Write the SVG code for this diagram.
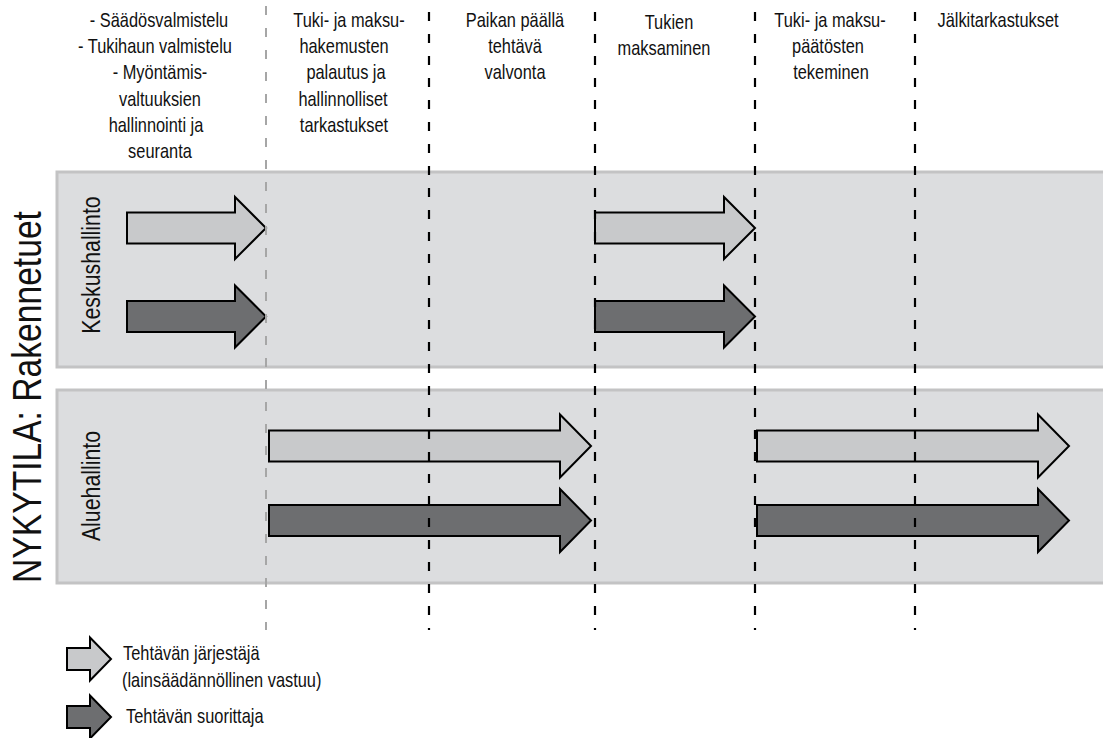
<svg xmlns="http://www.w3.org/2000/svg" width="1103" height="738" viewBox="0 0 1103 738">
<style>
.t{font-family:"Liberation Sans",Arial,sans-serif;fill:#111}
.h{font-size:20px;text-anchor:middle}
.lg{font-size:20px}
.band{fill:#dcdddf;stroke:#c3c3c4;stroke-width:3}
.lt{fill:#c8c9cb;stroke:#000;stroke-width:2;stroke-linejoin:miter}
.dk{fill:#6d6e70;stroke:#000;stroke-width:2;stroke-linejoin:miter}
.dg{stroke:#a6a6a6;stroke-width:2;stroke-dasharray:9 13;fill:none}
.db{stroke:#000;stroke-width:2.2;stroke-dasharray:9 13;fill:none}
</style>
<rect width="1103" height="738" fill="#fff"/>
<g id="band-keskushallinto">
<rect class="band" x="57" y="172" width="1060" height="195"/>
<text class="t" font-size="26" text-anchor="middle" transform="translate(100,265) rotate(-90) scale(0.82,1)">Keskushallinto</text>
</g>
<g id="band-aluehallinto">
<rect class="band" x="57" y="390" width="1060" height="193"/>
<text class="t" font-size="26" text-anchor="middle" transform="translate(100,486) rotate(-90) scale(0.82,1)">Aluehallinto</text>
</g>
<g id="arrows">
<g id="k-org-1"><path class="lt" d="M127 212.5 L235 212.5 L235 197 L266 228 L235 259 L235 243.5 L127 243.5 Z"/></g>
<g id="k-exe-1"><path class="dk" d="M127 301 L235 301 L235 285.5 L266 316.5 L235 347.5 L235 332 L127 332 Z"/></g>
<g id="k-org-2"><path class="lt" d="M595 212.5 L724 212.5 L724 197 L755 228 L724 259 L724 243.5 L595 243.5 Z"/></g>
<g id="k-exe-2"><path class="dk" d="M595 301 L724 301 L724 285.5 L755 316.5 L724 347.5 L724 332 L595 332 Z"/></g>
<g id="a-org-1"><path class="lt" d="M269 430.5 L560 430.5 L560 414.5 L591 446 L560 477.5 L560 461.5 L269 461.5 Z"/></g>
<g id="a-exe-1"><path class="dk" d="M269 505 L560 505 L560 489 L591 520.5 L560 552 L560 536 L269 536 Z"/></g>
<g id="a-org-2"><path class="lt" d="M757 430.5 L1038 430.5 L1038 414.5 L1069 446 L1038 477.5 L1038 461.5 L757 461.5 Z"/></g>
<g id="a-exe-2"><path class="dk" d="M757 505 L1038 505 L1038 489 L1069 520.5 L1038 552 L1038 536 L757 536 Z"/></g>
</g>
<g id="connectors">
<line class="dg" x1="266" y1="6" x2="266" y2="630"/>
<line class="db" x1="429" y1="12" x2="429" y2="630"/>
<line class="db" x1="595" y1="12" x2="595" y2="630"/>
<line class="db" x1="755" y1="12" x2="755" y2="630"/>
<line class="db" x1="915" y1="12" x2="915" y2="630"/>
</g>
<g id="title">
<text class="t" font-size="41" text-anchor="middle" transform="translate(41,397) rotate(-90) scale(0.82,1)">NYKYTILA: Rakennetuet</text>
</g>
<g id="col1">
<text class="t h" transform="translate(159,27) scale(0.82,1)">- Säädösvalmistelu</text>
<text class="t h" transform="translate(155,53) scale(0.82,1)">- Tukihaun valmistelu</text>
<text class="t h" transform="translate(160,79) scale(0.82,1)">- Myöntämis-</text>
<text class="t h" transform="translate(160,106) scale(0.82,1)">valtuuksien</text>
<text class="t h" transform="translate(156,132) scale(0.82,1)">hallinnointi ja</text>
<text class="t h" transform="translate(160,158) scale(0.82,1)">seuranta</text>
</g>
<g id="col2">
<text class="t h" transform="translate(349,27) scale(0.82,1)">Tuki-  ja maksu-</text>
<text class="t h" transform="translate(344,53) scale(0.82,1)">hakemusten</text>
<text class="t h" transform="translate(346,79) scale(0.82,1)">palautus ja</text>
<text class="t h" transform="translate(343,106) scale(0.82,1)">hallinnolliset</text>
<text class="t h" transform="translate(344,132) scale(0.82,1)">tarkastukset</text>
</g>
<g id="col3">
<text class="t h" transform="translate(515,27) scale(0.82,1)">Paikan päällä</text>
<text class="t h" transform="translate(515,53) scale(0.82,1)">tehtävä</text>
<text class="t h" transform="translate(515,79) scale(0.82,1)">valvonta</text>
</g>
<g id="col4">
<text class="t h" transform="translate(669,29) scale(0.82,1)">Tukien</text>
<text class="t h" transform="translate(664,55) scale(0.82,1)">maksaminen</text>
</g>
<g id="col5">
<text class="t h" transform="translate(830,27) scale(0.82,1)">Tuki- ja maksu-</text>
<text class="t h" transform="translate(828,53) scale(0.82,1)">päätösten</text>
<text class="t h" transform="translate(831,79) scale(0.82,1)">tekeminen</text>
</g>
<g id="col6">
<text class="t h" transform="translate(998,27) scale(0.82,1)">Jälkitarkastukset</text>
</g>
<g id="legend-org">
<path class="lt" d="M67 648 L90 648 L90 637.5 L111 659 L90 680.5 L90 670 L67 670 Z"/>
<text class="t lg" transform="translate(123,660) scale(0.82,1)">Tehtävän järjestäjä</text>
<text class="t lg" transform="translate(122,687) scale(0.82,1)">(lainsäädännöllinen vastuu)</text>
</g>
<g id="legend-exe">
<path class="dk" d="M67 706 L90 706 L90 695.5 L111 717 L90 738.5 L90 728 L67 728 Z"/>
<text class="t lg" transform="translate(126,723) scale(0.82,1)">Tehtävän suorittaja</text>
</g>
</svg>
